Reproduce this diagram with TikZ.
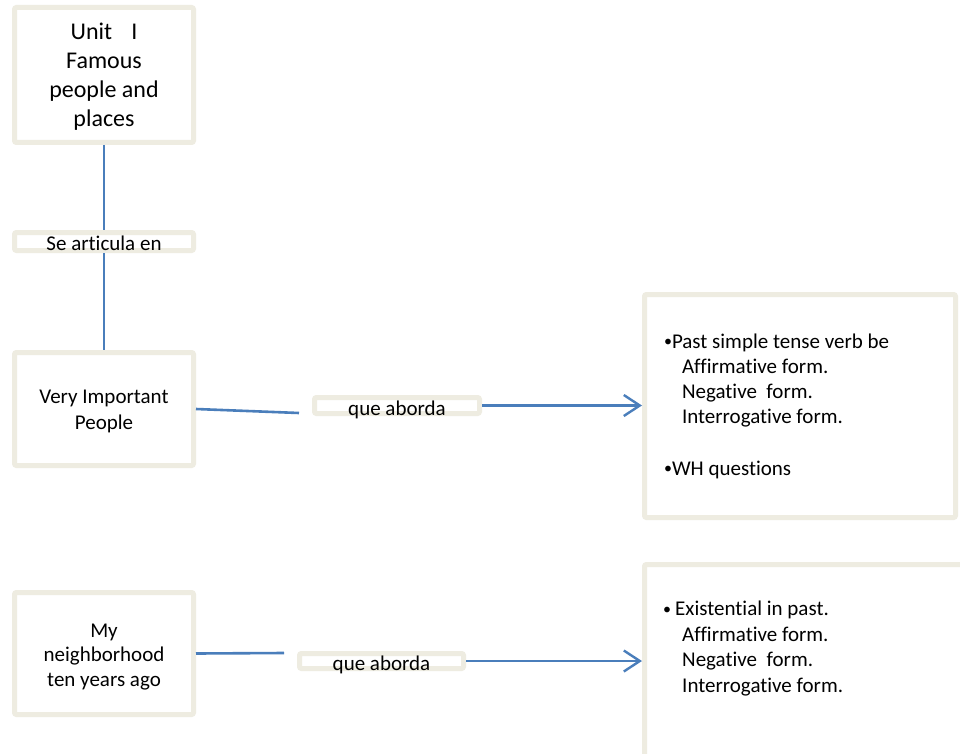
\documentclass[tikz,border=0pt]{standalone}
\usepackage{fontspec}
\setmainfont{Carlito}[Ligatures=NoCommon]
\usetikzlibrary{arrows.meta}
\definecolor{bord}{RGB}{238,236,225}
\definecolor{conn}{RGB}{74,126,187}
\newcommand{\rbtxt}[2]{\raisebox{#1}[0pt][0pt]{#2}}
\newcommand{\cpar}[2]{\parbox[t]{#1}{\centering #2}}
\newcommand{\lpar}[2]{\parbox[t]{#1}{\raggedright #2}}
\newcommand{\bul}[1]{\makebox[#1][l]{\raisebox{1.5pt}{\fontsize{16}{16}\selectfont •}}}
\begin{document}
\begin{tikzpicture}[x=1pt,y=-1pt,
  box/.style={draw=bord, line width=5pt, fill=white, rounded corners=2pt,
    inner sep=0pt, font=\fontsize{21}{25}\selectfont},
  conline/.style={draw=conn, line width=2.6pt},
  conarrow/.style={conline, -{Straight Barb[length=16pt,width=21pt,line width=2.4pt]}}]
\useasboundingbox[fill=white] (0,0) rectangle (960,754);

\node[box, minimum width=179pt, minimum height=135pt, font=\fontsize{24}{29}\selectfont] (unit) at (104,75)
  {\rbtxt{35pt}{\cpar{170pt}{Unit\hspace{0.8em}I\\Famous\\people and\\places}}};
\node[box, minimum width=179pt, minimum height=18pt] (se) at (104,241.5)
  {\rbtxt{-8.5pt}{Se articula en}};
\node[box, minimum width=179pt, minimum height=113pt, font=\fontsize{21}{26}\selectfont] (vip) at (104,409)
  {\rbtxt{6pt}{\cpar{170pt}{Very Important\\People}}};
\node[box, minimum width=165pt, minimum height=16pt] (qa1) at (397,405.5)
  {\rbtxt{-9.5pt}{que aborda}};
\node[box, minimum width=311pt, minimum height=223pt] (rb1) at (800,406)
  {\rbtxt{58pt}{\lpar{272pt}{\bul{8pt}Past simple tense verb be\\
   \hspace*{18pt}Affirmative form.\\
   \hspace*{18pt}Negative\ \ form.\\
   \hspace*{18pt}Interrogative form.\\[27pt]
   \bul{8pt}WH questions}}};

\node[box, minimum width=179pt, minimum height=122pt, font=\fontsize{21}{24.7}\selectfont] (nb) at (104,653.5)
  {\rbtxt{16.5pt}{\cpar{170pt}{My\\neighborhood\\ten years ago}}};
\node[box, minimum width=164pt, minimum height=15pt] (qa2) at (381.5,661)
  {\rbtxt{-9pt}{que aborda}};
\node[box, minimum width=400pt, minimum height=300pt, anchor=north west] (rb2) at (642,562) {};
\node[inner sep=0pt, anchor=base west, font=\fontsize{21}{25.7}\selectfont] (t2) at (663,615.5)
  {\lpar{272pt}{\bul{12pt}Existential in past.\\
   \hspace*{19pt}Affirmative form.\\
   \hspace*{19pt}Negative\ \ form.\\
   \hspace*{19pt}Interrogative form.}};

\coordinate (c1) at (299,413);
\coordinate (c2) at (284,653);

\draw[conline] (unit.south) -- (se.north);
\draw[conline] (se.south) -- (vip.north);
\draw[conline] (vip.east) -- (c1);
\draw[conarrow] (qa1.east) -- (qa1.east -| rb1.west);
\draw[conline] (nb.east) -- (c2);
\draw[conarrow] (qa2.east) -- (qa2.east -| rb2.west);
\end{tikzpicture}
\end{document}
